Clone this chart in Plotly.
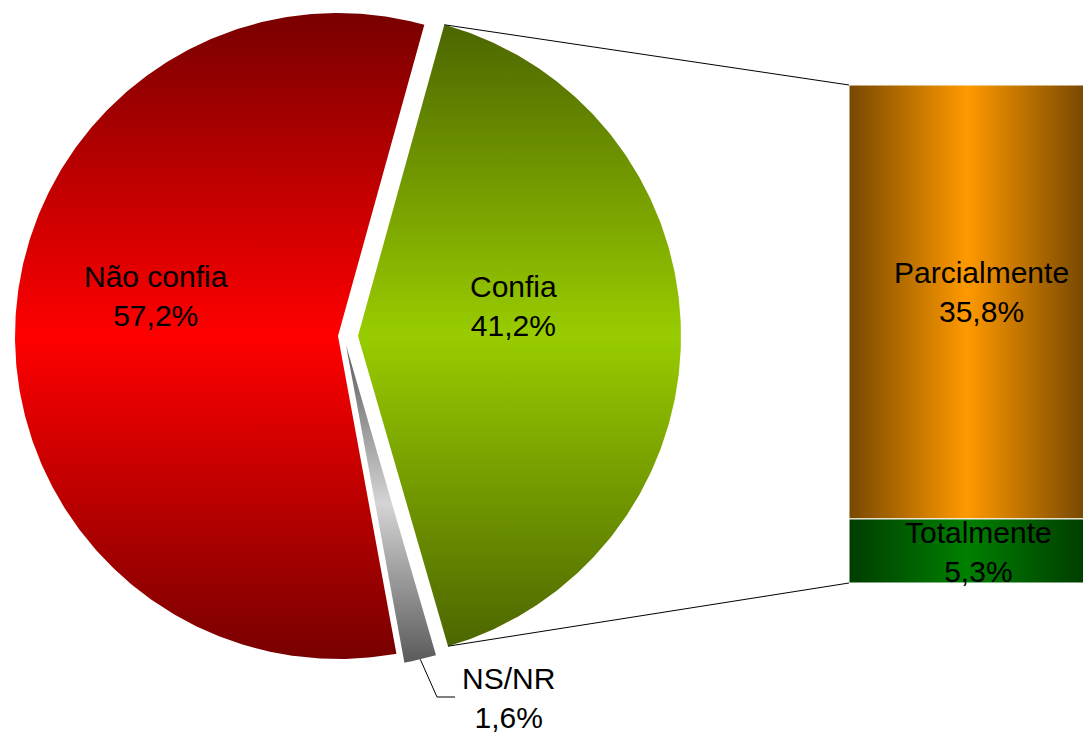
import numpy as np
import plotly.graph_objects as go

# ---------------- data ----------------
pie_labels = ["Confia", "NS/NR", "Não confia"]
pie_values = [41.2, 1.6, 57.2]
bar_labels = ["Totalmente", "Parcialmente"]      # bottom -> top
bar_values = [5.3, 35.8]

# ---------------- layout / style ----------------
W, H = 1083, 733
R_PX = 323                 # pie radius in px
CX_PX, CY_PX = 338, 336    # pie centre in px
START_DEG = 15.5           # first slice starts here (clockwise from 12 o'clock)
EXPLODE_PX = {"Confia": (20, 0), "NS/NR": (8, 9), "Não confia": (0, 0)}
PIE_COLORS = {"Confia": ("#4c6600", "#99cc00"),
              "NS/NR": ("#5a5a5a", "#d4d4d4"),
              "Não confia": ("#780000", "#ff0000")}
BAR_COLORS = {"Parcialmente": ("#774800", "#ff9900"),
              "Totalmente": ("#003d00", "#008000")}
BAR_LEFT_PX, BAR_RIGHT_PX, BAR_TOP_PX, BAR_BOTTOM_PX = 849, 1085, 85, 583
LABEL_PX = {"Não confia": (156, 296), "Confia": (513, 305.5), "NS/NR": (508, 698),
            "Parcialmente": (981, 291.5), "Totalmente": (978, 552)}
FONT = dict(family="Liberation Sans, Arial, sans-serif", size=30, color="black")


def ux(px):
    return (px - CX_PX) / R_PX


def uy(py):
    return (CY_PX - py) / R_PX


def fmt(v):
    return f"{v:.1f}".replace(".", ",") + "%"


fig = go.Figure()

total = sum(pie_values)
ang = START_DEG
corners = {}
arc_mid = {}
for lab, val in zip(pie_labels, pie_values):
    span = val / total * 360.0
    a0, a1 = ang, ang + span
    ang = a1
    dx, dy = EXPLODE_PX[lab]
    cx, cy = dx / R_PX, -dy / R_PX
    n = max(8, int(span * 2))
    th = np.radians(np.linspace(a0, a1, n))
    xs = np.concatenate([[cx], cx + np.sin(th), [cx]])
    ys = np.concatenate([[cy], cy + np.cos(th), [cy]])
    dark, bright = PIE_COLORS[lab]
    fig.add_trace(go.Scatter(
        x=xs, y=ys, mode="lines", fill="toself",
        line=dict(width=0, color=bright),
        fillgradient=dict(type="vertical",
                          colorscale=[[0, dark], [0.5, bright], [1, dark]]),
        hoverinfo="skip", showlegend=False))
    corners[lab] = ((cx + np.sin(np.radians(a0)), cy + np.cos(np.radians(a0))),
                    (cx + np.sin(np.radians(a1)), cy + np.cos(np.radians(a1))))
    am = np.radians((a0 + a1) / 2)
    arc_mid[lab] = (cx + np.sin(am), cy + np.cos(am))

# ---------------- stacked bar ----------------
bx0, bx1 = ux(BAR_LEFT_PX), ux(BAR_RIGHT_PX)
by_top, by_bot = uy(BAR_TOP_PX), uy(BAR_BOTTOM_PX)
scale = (by_top - by_bot) / sum(bar_values)
base = by_bot
for lab, val in zip(bar_labels, bar_values):
    y0, y1 = base, base + val * scale
    base = y1
    dark, bright = BAR_COLORS[lab]
    fig.add_trace(go.Scatter(
        x=[bx0, bx1, bx1, bx0, bx0], y=[y0, y0, y1, y1, y0],
        mode="lines", fill="toself", line=dict(width=1, color="white"),
        fillgradient=dict(type="horizontal",
                          colorscale=[[0, dark], [0.5, bright], [1, dark]]),
        hoverinfo="skip", showlegend=False))

# ---------------- connector lines ----------------
top_c = corners["Confia"][0]
bot_c = corners["Confia"][1]
fig.add_trace(go.Scatter(x=[top_c[0], bx0], y=[top_c[1], by_top], mode="lines",
                         line=dict(color="black", width=1), hoverinfo="skip", showlegend=False))
fig.add_trace(go.Scatter(x=[bot_c[0], bx0], y=[bot_c[1], by_bot], mode="lines",
                         line=dict(color="black", width=1), hoverinfo="skip", showlegend=False))

# leader line for NS/NR
lx, ly = LABEL_PX["NS/NR"]
sx, sy = arc_mid["NS/NR"]
fig.add_trace(go.Scatter(x=[sx, ux(lx - 71), ux(lx - 53)],
                         y=[sy, uy(ly - 1), uy(ly - 1)], mode="lines",
                         line=dict(color="black", width=1), hoverinfo="skip", showlegend=False))

# ---------------- labels ----------------
for lab, val in list(zip(pie_labels, pie_values)) + list(zip(bar_labels, bar_values)):
    px, py = LABEL_PX[lab]
    fig.add_annotation(x=ux(px), y=uy(py), text=f"{lab}<br>{fmt(val)}",
                       showarrow=False, font=FONT, xanchor="center", yanchor="middle",
                       align="center")

fig.update_layout(
    width=W, height=H, autosize=False,
    margin=dict(l=0, r=0, t=0, b=0),
    paper_bgcolor="white", plot_bgcolor="white",
    xaxis=dict(range=[ux(0), ux(W)], visible=False, fixedrange=True),
    yaxis=dict(range=[uy(H), uy(0)], visible=False, fixedrange=True),
    showlegend=False,
)

fig.write_html("out.html",
               config={"displayModeBar": False},
               post_script="document.body.style.margin='0px';"
                           "document.body.style.overflow='hidden';")
